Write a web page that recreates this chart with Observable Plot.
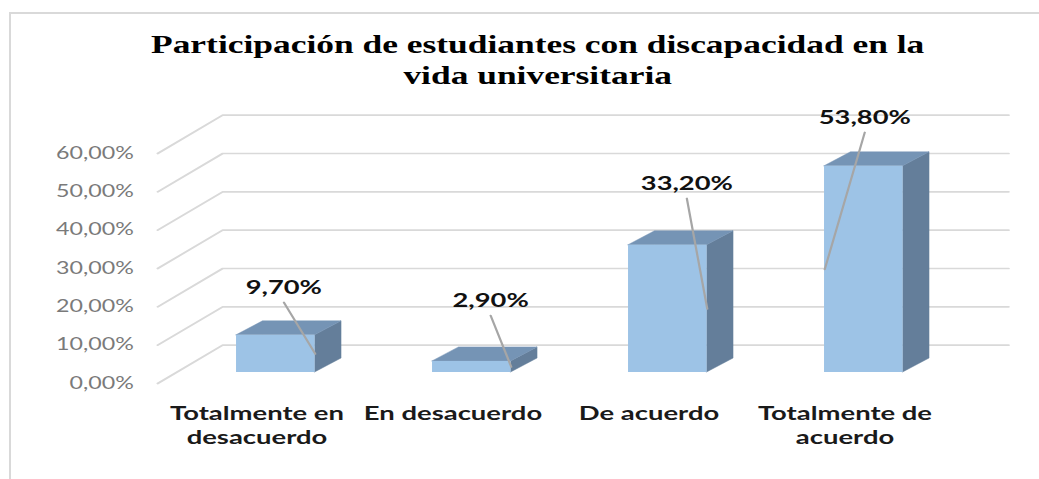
<!DOCTYPE html>
<html>
<head>
<meta charset="utf-8">
<script src="https://cdn.jsdelivr.net/npm/d3@7"></script>
<script src="https://cdn.jsdelivr.net/npm/@observablehq/plot@0.6"></script>
<style>
  html, body { margin: 0; padding: 0; background: #ffffff; }
  body { width: 1039px; height: 479px; position: relative; overflow: hidden; }
  #frame { position: absolute; left: 9px; top: 12px; width: 1030px; height: 470px;
           border-top: 2px solid #d9d9d9; border-left: 2px solid #d9d9d9; box-sizing: border-box; }
  #chart { position: absolute; left: 0; top: 0; width: 742.14px;
           transform: scaleX(1.4); transform-origin: 0 0; }
  #title { height: 100px; box-sizing: border-box; padding-top: 29px; padding-left: 26px;
           text-align: center; font-family: "Liberation Serif", "Times New Roman", serif;
           font-weight: bold; font-size: 25.3px; line-height: 31px; color: #000; }
  #chart svg { display: block; overflow: visible; }
</style>
</head>
<body>
<div id="frame"></div>
<div id="chart">
  <div id="title">Participación de estudiantes con discapacidad en la<br>vida universitaria</div>
  <div id="plot"></div>
</div>
<script>
// ---- data ----
const categories = ["Totalmente en\ndesacuerdo", "En desacuerdo", "De acuerdo", "Totalmente de\nacuerdo"];
const values = [9.7, 2.9, 33.2, 53.8];
const yTicks = [0, 10, 20, 30, 40, 50, 60];
const yTickLabels = ["0,00%", "10,00%", "20,00%", "30,00%", "40,00%", "50,00%", "60,00%"];
// manual placement of the data labels (category units / value units above the bar value)
const labelDx = [0.04, 0.095, 0.096, 0.004];
const labelDy = [15.35, 18.75, 18.98, 15.6];
const leaderSide = [1, 1, 1, -1];

// ---- 3D projection constants (in scale units) ----
const HW = 0.2004;          // half width of a bar's front face
const BAR_DX = 0.135;       // bar depth, horizontal
const BAR_DY = 3.65;        // bar depth, vertical
const BASE = 2.87;          // lift of the bar's front face above the front floor
const WALL_L = -0.6036;     // front-left corner of the floor
const WALL_DX = 0.3316;     // full depth, horizontal
const WALL_DY = 10;         // full depth, vertical
const WALL_R = 3.738;       // right end of the back wall
const CAT_SHIFT = -0.097;   // category labels sit on the front edge of the floor

const fmt = v => v.toFixed(2).replace(".", ",") + "%";

const gridPts = yTicks.flatMap(t => [
  {x: WALL_L, y: t, t},
  {x: WALL_L + WALL_DX, y: t + WALL_DY, t},
  {x: WALL_R, y: t + WALL_DY, t}
]);

const fronts = values.map((v, i) => ({x1: i - HW, x2: i + HW, y1: BASE, y2: BASE + v}));

const sides = values.flatMap((v, i) => [
  {k: i, x: i + HW, y1: BASE, y2: BASE + v},
  {k: i, x: i + HW + BAR_DX, y1: BASE + BAR_DY, y2: BASE + v + BAR_DY}
]);

const tops = values.flatMap((v, i) => {
  const t = BASE + v, xl = i - HW, xr = i + HW;
  return [
    {k: i, x: xl, y1: t, y2: t},
    {k: i, x: xl + BAR_DX, y1: t, y2: t + BAR_DY},
    {k: i, x: xr, y1: t, y2: t + BAR_DY},
    {k: i, x: xr + BAR_DX, y1: t + BAR_DY, y2: t + BAR_DY}
  ];
});

const leaders = values.flatMap((v, i) => [
  {k: i, x: i + labelDx[i], y: v + labelDy[i] - 3.9},
  {k: i, x: i + leaderSide[i] * HW, y: BASE + v / 2}
]);

const chart = Plot.plot({
  width: 742,
  height: 379,
  marginLeft: 0, marginRight: 0, marginTop: 0, marginBottom: 0,
  x: {type: "linear", domain: [0, 1], range: [196.65, 336.65], axis: null},
  y: {type: "linear", domain: [0, 60], range: [283, 53], axis: null},
  style: {fontFamily: "Lato, 'Open Sans', sans-serif", background: "transparent", overflow: "visible"},
  marks: [
    Plot.line(gridPts, {x: "x", y: "y", z: "t", stroke: "#d9d9d9", strokeWidth: 1.7}),
    Plot.areaY(sides, {x: "x", y1: "y1", y2: "y2", z: "k", fill: "#647e9a", stroke: "#647e9a", strokeWidth: 0.4}),
    Plot.areaY(tops, {x: "x", y1: "y1", y2: "y2", z: "k", fill: "#7594b5", stroke: "#7594b5", strokeWidth: 0.4}),
    Plot.rect(fronts, {x1: "x1", x2: "x2", y1: "y1", y2: "y2", fill: "#9dc3e6"}),
    Plot.line(leaders, {x: "x", y: "y", z: "k", stroke: "#a6a6a6", strokeWidth: 1.6}),
    Plot.text(yTicks, {
      x: () => WALL_L, y: d => d, text: (d, i) => yTickLabels[i],
      textAnchor: "end", dx: -17, lineAnchor: "middle",
      fill: "#7a7a7a", fontSize: 16.6
    }),
    Plot.text(values, {
      x: (d, i) => i + labelDx[i], y: (d, i) => d + labelDy[i], text: d => fmt(d),
      lineAnchor: "middle", fontWeight: "bold", fontSize: 19.5, fill: "#111111"
    }),
    Plot.text(categories, {
      x: (d, i) => i + CAT_SHIFT, y: () => 0, text: d => d,
      dy: 19, lineAnchor: "top", lineHeight: 1.24,
      fontWeight: "bold", fontSize: 19.6, fill: "#1a1a1a"
    })
  ]
});
document.getElementById("plot").appendChild(chart);
</script>
</body>
</html>
